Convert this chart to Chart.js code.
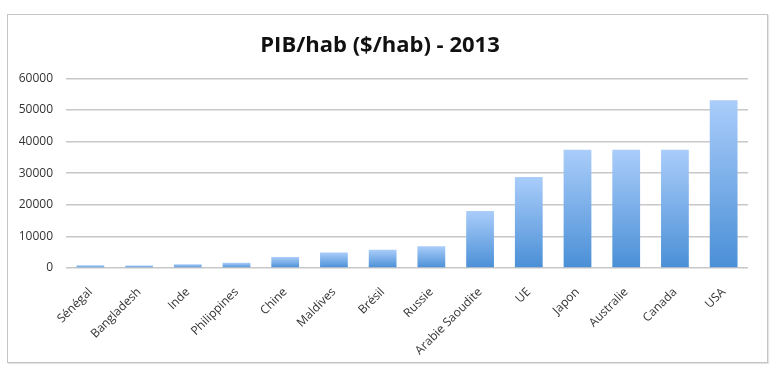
<!DOCTYPE html>
<html>
<head>
<meta charset="utf-8">
<script src="https://cdn.jsdelivr.net/npm/chart.js@4.4.0/dist/chart.umd.min.js"></script>
<style>
  html, body { margin: 0; padding: 0; background: #fff; }
  #frame {
    position: absolute; left: 7px; top: 14px;
    width: 759px; height: 347px;
    border: 1px solid #c4c4c4;
    box-shadow: 1px 1px 1px #e4e4e4;
  }
  #frame canvas { display: block; }
</style>
</head>
<body>
<div id="frame"><canvas id="pib" width="759" height="347"></canvas></div>
<script>
'use strict';

// ── Data ─────────────────────────────────────────────────────────
const countries = ['Sénégal', 'Bangladesh', 'Inde', 'Philippines', 'Chine', 'Maldives',
                   'Brésil', 'Russie', 'Arabie Saoudite', 'UE', 'Japon', 'Australie', 'Canada', 'USA'];
const pibParHab = [850, 800, 1150, 1650, 3500, 4900, 5800, 6900, 18000, 28800, 37400, 37400, 37450, 53100];
const yTicks    = [0, 10000, 20000, 30000, 40000, 50000, 60000];

const FONT = '"Open Sans", "Liberation Sans", sans-serif';

// vertical gradient per bar: light on top, deeper blue at the base
function barFill(ctx) {
    const chart = ctx.chart;
    const y = chart.scales.y;
    if (!y || ctx.parsed === undefined) return '#7fb0e8';
    const top = y.getPixelForValue(ctx.parsed.y);
    const base = y.getPixelForValue(0);
    if (!isFinite(top) || !isFinite(base) || top === base) return '#7fb0e8';
    const g = chart.ctx.createLinearGradient(0, top, 0, base);
    g.addColorStop(0, '#aacdfa');
    g.addColorStop(1, '#4a8fd6');
    return g;
}

new Chart(document.getElementById('pib'), {
    type: 'bar',
    data: {
        labels: countries,
        datasets: [{
            label: 'PIB/hab',
            data: pibParHab,
            backgroundColor: barFill,
            borderWidth: 0,
            barPercentage: 0.57,
            categoryPercentage: 1,
        }]
    },
    options: {
        responsive: false,
        animation: false,
        layout: { padding: { top: 6, right: 19, left: 4, bottom: 0 } },
        plugins: {
            legend: { display: false },
            tooltip: { enabled: false },
            title: {
                display: true,
                text: 'PIB/hab ($/hab) - 2013',
                color: '#111',
                font: { family: FONT, size: 22, weight: 'bold' },
                padding: { top: 12, bottom: 19 },
            }
        },
        scales: {
            x: {
                grid: { display: false, drawTicks: false },
                border: { display: false },
                afterFit: axis => { axis.height = 94; },
                ticks: {
                    color: '#333', font: { family: FONT, size: 12 },
                    minRotation: 45, maxRotation: 45, padding: 17, autoSkip: false,
                }
            },
            y: {
                min: 0, max: 60000,
                afterBuildTicks: axis => { axis.ticks = yTicks.map(v => ({ value: v })); },
                afterFit: axis => { axis.width = 54; },
                grid: { color: '#c8c8c8', lineWidth: 1.5, drawTicks: false },
                border: { display: false },
                ticks: {
                    color: '#333', font: { family: FONT, size: 12 }, padding: 13,
                    callback: v => String(v),
                }
            }
        }
    }
});
</script>
</body>
</html>
